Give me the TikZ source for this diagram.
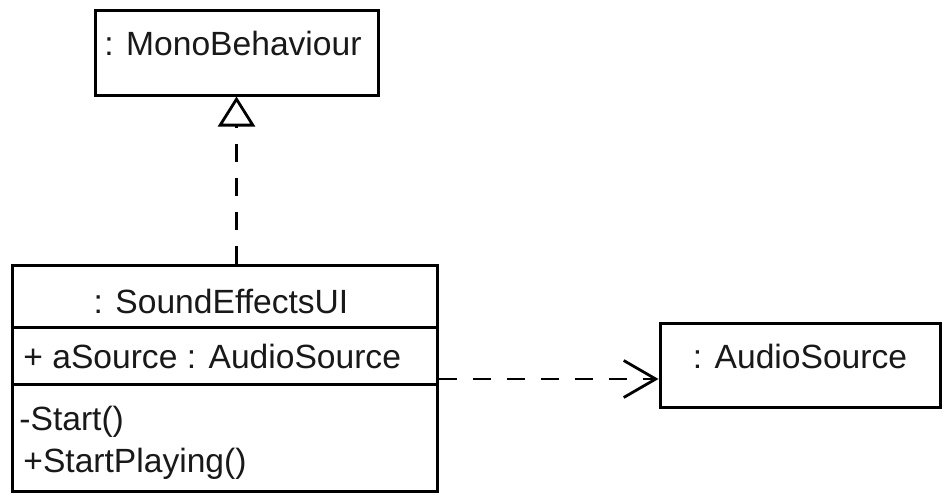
\documentclass[tikz,border=0pt]{standalone}
\usepackage{fontspec}
\setmainfont{Liberation Sans}
\usetikzlibrary{arrows.meta}

\tikzset{
  umlbox/.style={draw=black, line width=1.5pt, rectangle, inner sep=0pt, fill=white},
  label/.style={inner sep=0pt, font=\fontsize{16.8pt}{20pt}\selectfont, text=black!90},
  rule/.style={line width=1.5pt},
  dep/.style={line width=1.4pt, dash pattern=on 9pt off 8pt},
}

\begin{document}
\begin{tikzpicture}[x=0.5pt, y=-0.5pt]
  \useasboundingbox (0,0) rectangle (948,498);

  % object boxes
  \node[umlbox, minimum width=141.5pt, minimum height=42.5pt] (mono)  at (236.5,52.5) {};
  \node[umlbox, minimum width=212.5pt, minimum height=113pt]  (seui)  at (224.5,378) {};
  \node[umlbox, minimum width=140pt,   minimum height=42pt]   (audio) at (800,365) {};

  % compartment separators of SoundEffectsUI
  \draw[rule] (seui.west |- 0,327) -- (seui.east |- 0,327);
  \draw[rule] (seui.west |- 0,384) -- (seui.east |- 0,384);

  % texts
  \node[label, anchor=base] (mononame)  at (233,55)  {: MonoBehaviour};
  \node[label, anchor=base] (seuiname)  at (221,313) {: SoundEffectsUI};
  \node[label, anchor=base] (audioname) at (800,368) {: AudioSource};
  \node[label, anchor=base west] (attr)  at (23,368) {+ aSource : AudioSource};
  \node[label, anchor=base west] (op1)   at (19,430) {-Start()};
  \node[label, anchor=base west] (op2)   at (23,472) {+StartPlaying()};

  % realization towards MonoBehaviour
  \draw[dep, -{Triangle[open, length=15pt, width=18.5pt, line width=1.4pt]}]
    (seui.north -| mono.south) -- (mono.south);

  % dependency on AudioSource
  \coordinate (deptip) at ([yshift=-7pt]audio.west);
  \draw[dep, -{Straight Barb[length=16pt, width=18.5pt, line width=1.4pt]}]
    (seui.east |- deptip) -- (deptip);
\end{tikzpicture}
\end{document}
